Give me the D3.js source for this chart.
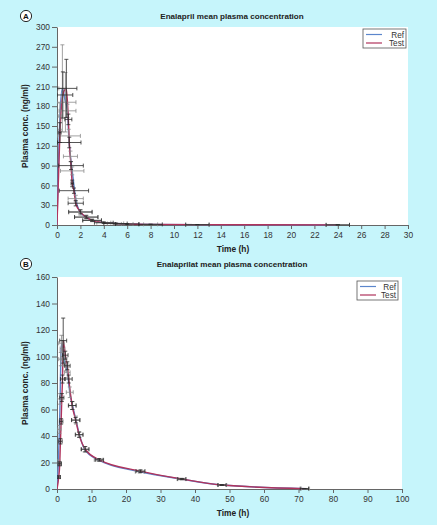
<!DOCTYPE html>
<html><head><meta charset="utf-8">
<script src="https://cdn.jsdelivr.net/npm/d3@7"></script>
<style>
html,body{margin:0;padding:0;background:#c6f5fb;}
svg{display:block;font-family:"Liberation Sans",Arial,sans-serif;}
</style></head>
<body>
<svg id="c" width="437" height="525"></svg>
<script>
// ---------- Panel A: Enalapril ----------
const aTitle = "Enalapril mean plasma concentration";
const aXTicks = [0,2,4,6,8,10,12,14,16,18,20,22,24,26,28,30];
const aYTicks = [0,30,60,90,120,150,180,210,240,270,300];
const aRefTime = [0, 0.25, 0.46, 0.72, 0.9, 1.0, 1.15, 1.3, 1.6, 2.0, 2.5, 3.0, 4, 5, 6, 8, 12, 24];
const aRefConc = [0, 165, 207, 186, 173, 135, 104, 82, 40, 19, 12, 7, 3.5, 2.4, 1.6, 0.9, 0.5, 0.2];
const aRefTSD  = [0, 0.15, 0.3, 0.9, 0.72, 1.0, 0.6, 1.0, 0.65, 1.0, 1.0, 0.8, 0.6, 0.7, 0.5, 0.6, 1.0, 1.0];
const aRefCSD  = [0, 20, 66, 45, 10, 10, 8, 6, 5, 4, 3, 2, 1, 0.8, 0.5, 0.3, 0.2, 0.1];
const aTestTime = [0, 0.25, 0.5, 0.8, 0.97, 1.05, 1.2, 1.3, 1.45, 1.6, 2.0, 2.5, 3.0, 4, 5, 6, 8, 12, 24];
const aTestConc = [0, 140, 197, 207, 160, 125, 90, 63, 52, 33, 20, 12, 7, 3.5, 2.2, 1.5, 0.9, 0.5, 0.2];
const aTestTSD  = [0, 0.1, 0.85, 0.9, 0.3, 1.0, 1.05, 0.1, 1.25, 0.65, 1.0, 1.0, 0.8, 0.8, 1.0, 1.0, 1.0, 1.0, 1.0];
const aTestCSD  = [0, 15, 35, 44, 8, 8, 6, 5, 4, 4, 3, 2, 1.5, 1, 0.8, 0.5, 0.3, 0.2, 0.1];

// ---------- Panel B: Enalaprilat ----------
const bTitle = "Enalaprilat mean plasma concentration";
const bXTicks = [0,10,20,30,40,50,60,70,80,90,100];
const bYTicks = [0,20,40,60,80,100,120,140,160];
const bRefTime = [0, 0.4, 0.7, 0.9, 1.1, 1.3, 1.6, 2.0, 2.5, 3.0, 3.7, 4.5, 5.5, 6.5, 8, 12, 24, 36, 48, 72];
const bRefConc = [0, 20, 45, 68, 98, 110, 106, 98, 94, 88, 73, 63, 52, 41, 30, 22, 13, 7.5, 3, 0.3];
const bRefTSD  = [0, 0.6, 0.5, 0.8, 0.6, 0.8, 0.7, 0.8, 0.7, 0.8, 1.0, 1.1, 1.2, 1.1, 1.1, 1.2, 1.3, 1.2, 1.2, 1.2];
const bRefCSD  = [0, 2, 3, 4, 5, 6, 6, 5, 5, 4, 4, 3, 3, 2, 2, 1, 1, 0.5, 0.3, 0.1];
const bTestTime = [0, 0.5, 0.8, 1.0, 1.2, 1.4, 1.6, 1.8, 2.4, 3.0, 3.4, 4.4, 5.4, 6.4, 8.2, 12.3, 24.2, 36.2, 47.8, 71.7];
const bTestConc = [0, 9, 19, 36, 51, 69, 83, 112, 101, 93, 83, 63, 52, 41, 30, 22, 13.5, 7.5, 3, 0.3];
const bTestTSD  = [0, 0.5, 0.5, 0.5, 0.5, 0.6, 0.6, 1.0, 0.8, 0.8, 1.0, 1.1, 1.2, 1.1, 1.1, 1.2, 1.3, 1.2, 1.2, 1.2];
const bTestCSD  = [0, 1, 1.5, 2, 2, 3, 3, 17, 3, 3, 3, 3, 2, 2, 2, 1, 1, 0.5, 0.3, 0.1];

const legendLabels = ["Ref", "Test"];
const colors = {Ref: "#5b86cc", Test: "#b0335c"};
const errColors = {Ref: "#8a8a8a", Test: "#2a2a2a"};

const svg = d3.select("#c");

function zip(t, c, ts, cs) { return t.map((d,i)=>({t:d, c:c[i], ts:ts[i], cs:cs[i]})); }

function panel(cfg) {
  const x = d3.scaleLinear().domain(cfg.xDomain).range([cfg.left, cfg.right]);
  const y = d3.scaleLinear().domain(cfg.yDomain).range([cfg.bottom, cfg.top]);
  const g = svg.append("g");
  g.append("rect").attr("x", cfg.left).attr("y", cfg.top)
    .attr("width", cfg.right - cfg.left).attr("height", cfg.bottom - cfg.top).attr("fill", "#fff");

  g.append("text").attr("x", 232).attr("y", cfg.titleY).attr("text-anchor", "middle")
    .attr("font-size", 8.1).attr("font-weight", "bold").attr("fill", "#222").text(cfg.title);
  g.append("circle").attr("cx", 26).attr("cy", cfg.titleY - 3).attr("r", 5.6)
    .attr("fill", "#fff").attr("stroke", "#111").attr("stroke-width", 0.9);
  g.append("text").attr("x", 26).attr("y", cfg.titleY).attr("text-anchor", "middle")
    .attr("font-size", 8).attr("font-weight", "bold").attr("fill", "#111").text(cfg.letter);

  const xAxis = d3.axisBottom(x).tickValues(cfg.xTicks).tickSize(4).tickPadding(3).tickSizeOuter(0);
  const yAxis = d3.axisLeft(y).tickValues(cfg.yTicks).tickSize(5).tickPadding(2).tickSizeOuter(0);
  const gx = g.append("g").attr("transform", `translate(0,${cfg.bottom})`).call(xAxis);
  const gy = g.append("g").attr("transform", `translate(${cfg.left},0)`).call(yAxis);
  [gx, gy].forEach(a => {
    a.select(".domain").attr("stroke", "#666").attr("stroke-width", 1);
    a.selectAll(".tick line").attr("stroke", "#666");
    a.selectAll(".tick text").attr("fill", "#333").attr("font-size", 8.4)
      .attr("font-family", "Liberation Sans, Arial, sans-serif");
  });

  g.append("text").attr("x", 233).attr("y", cfg.bottom + 27).attr("text-anchor", "middle")
    .attr("font-size", 8.4).attr("font-weight", "bold").attr("fill", "#222").text("Time (h)");
  g.append("text").attr("transform", `translate(28,${(cfg.top + cfg.bottom) / 2}) rotate(-90)`)
    .attr("text-anchor", "middle").attr("font-size", 8.4).attr("font-weight", "bold")
    .attr("fill", "#222").text("Plasma conc. (ng/ml)");

  const clipId = "clip" + cfg.letter;
  svg.append("clipPath").attr("id", clipId).append("rect")
    .attr("x", cfg.left).attr("y", cfg.top - 2).attr("width", cfg.right - cfg.left + 2)
    .attr("height", cfg.bottom - cfg.top + 4);
  const pg = g.append("g").attr("clip-path", `url(#${clipId})`);

  const line = d3.line().x(d => x(d.t)).y(d => y(d.c)).curve(d3.curveMonotoneX);
  cfg.series.forEach(s => {
    pg.append("path").datum(s.data).attr("d", line).attr("fill", "none")
      .attr("stroke", colors[s.name]).attr("stroke-width", 1.4);
  });
  const cap = 2;
  cfg.series.forEach(s => {
    const eg = pg.append("g").attr("stroke", errColors[s.name]).attr("stroke-width", 0.8).attr("fill", "none");
    s.data.forEach(d => {
      if (d.ts > 0) {
        const x0 = x(Math.max(0, d.t - d.ts)), x1 = x(d.t + d.ts), yy = y(d.c);
        eg.append("line").attr("x1", x0).attr("x2", x1).attr("y1", yy).attr("y2", yy);
        eg.append("line").attr("x1", x0).attr("x2", x0).attr("y1", yy - cap).attr("y2", yy + cap);
        eg.append("line").attr("x1", x1).attr("x2", x1).attr("y1", yy - cap).attr("y2", yy + cap);
      }
      if (d.cs > 0) {
        const y0 = y(Math.max(0, d.c - d.cs)), y1 = y(d.c + d.cs), xx = x(d.t);
        eg.append("line").attr("x1", xx).attr("x2", xx).attr("y1", y0).attr("y2", y1);
        eg.append("line").attr("x1", xx - cap).attr("x2", xx + cap).attr("y1", y1).attr("y2", y1);
        eg.append("line").attr("x1", xx - cap).attr("x2", xx + cap).attr("y1", y0).attr("y2", y0);
      }
    });
  });

  const lg = g.append("g");
  lg.append("rect").attr("x", cfg.legX).attr("y", cfg.legY).attr("width", cfg.legW).attr("height", 19)
    .attr("fill", "#fff").attr("stroke", "#555").attr("stroke-width", 0.8);
  legendLabels.forEach((n, i) => {
    const yy = cfg.legY + 5.5 + i * 8.5;
    lg.append("line").attr("x1", cfg.legX + 3).attr("x2", cfg.legX + 19).attr("y1", yy).attr("y2", yy)
      .attr("stroke", colors[n]).attr("stroke-width", 1.2);
    lg.append("text").attr("x", cfg.legX + cfg.legW - 2).attr("y", yy + 3).attr("text-anchor", "end")
      .attr("font-size", 8.2).attr("fill", "#333").text(n);
  });
}

panel({
  letter: "A", title: aTitle, titleY: 19,
  left: 57, right: 408, top: 27, bottom: 225,
  xDomain: [0, 30], yDomain: [0, 300], xTicks: aXTicks, yTicks: aYTicks,
  legX: 363, legY: 29, legW: 43,
  series: [
    {name: "Ref", data: zip(aRefTime, aRefConc, aRefTSD, aRefCSD)},
    {name: "Test", data: zip(aTestTime, aTestConc, aTestTSD, aTestCSD)}
  ]
});
panel({
  letter: "B", title: bTitle, titleY: 267,
  left: 57, right: 402, top: 277, bottom: 489,
  xDomain: [0, 100], yDomain: [0, 160], xTicks: bXTicks, yTicks: bYTicks,
  legX: 357, legY: 281, legW: 41,
  series: [
    {name: "Ref", data: zip(bRefTime, bRefConc, bRefTSD, bRefCSD)},
    {name: "Test", data: zip(bTestTime, bTestConc, bTestTSD, bTestCSD)}
  ]
});
</script>
</body></html>
